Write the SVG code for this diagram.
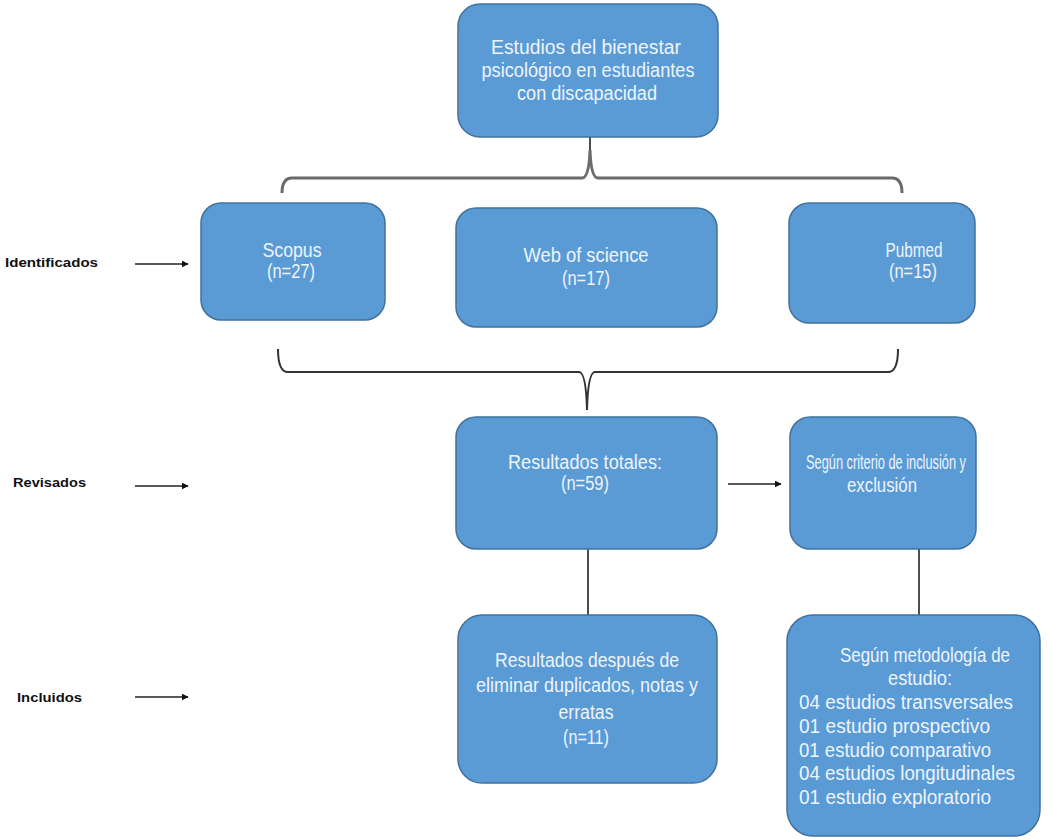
<svg xmlns="http://www.w3.org/2000/svg" width="1052" height="840" viewBox="0 0 1052 840">
<defs>
<marker id="ah" viewBox="0 0 10 10" refX="9" refY="5" markerWidth="7" markerHeight="7" markerUnits="userSpaceOnUse" orient="auto">
<path d="M0,0 L10,5 L0,10 z" fill="#111"/>
</marker>
<style>
.box{fill:#5b9bd5;stroke:#41719c;stroke-width:1.5}
.t{font-family:"Liberation Sans",Arial,sans-serif;font-size:19.5px;fill:#eef4fb;text-anchor:middle;dominant-baseline:central}
.tl{text-anchor:start}
.lab{font-family:"Liberation Sans",Arial,sans-serif;font-size:12.5px;font-weight:bold;fill:#111;dominant-baseline:central}
.arr{stroke:#222;stroke-width:1.6;fill:none;marker-end:url(#ah)}
.ln{stroke:#222;stroke-width:1.6;fill:none}
</style>
</defs>
<rect width="1052" height="840" fill="#ffffff"/>

<g id="labels">
<text class="lab" x="5" y="263" textLength="93" lengthAdjust="spacingAndGlyphs">Identificados</text>
<text class="lab" x="13" y="483" textLength="73" lengthAdjust="spacingAndGlyphs">Revisados</text>
<text class="lab" x="17" y="698" textLength="65" lengthAdjust="spacingAndGlyphs">Incluidos</text>
</g>

<g id="connectors">
<line class="arr" x1="135" y1="264" x2="188" y2="264"/>
<line class="arr" x1="135" y1="486" x2="188" y2="486"/>
<line class="arr" x1="135" y1="697" x2="188" y2="697"/>
<line class="arr" x1="728" y1="484" x2="781" y2="484"/>
<line class="ln" x1="590" y1="137" x2="590" y2="150"/>
<path d="M282,193 Q282,178 292,178 L582,178 Q589,178 590,150 Q591,178 598,178 L892,178 Q902,178 902,193" stroke="#6b6b6b" stroke-width="3" fill="none"/>
<path d="M278,349 Q278,372 288,372 L579,372 Q586,372 587,410 Q588,372 595,372 L888,372 Q898,372 898,349" stroke="#333" stroke-width="2" fill="none"/>
<line class="ln" x1="588" y1="549" x2="588" y2="615"/>
<line class="ln" x1="919" y1="549" x2="919" y2="615"/>
</g>

<g id="n-top">
<rect class="box" x="458" y="4" width="260" height="133" rx="22"/>
<text class="t" x="586" y="47" textLength="190" lengthAdjust="spacingAndGlyphs">Estudios del bienestar</text>
<text class="t" x="588" y="70" textLength="213" lengthAdjust="spacingAndGlyphs">psicológico en estudiantes</text>
<text class="t" x="587" y="93" textLength="140" lengthAdjust="spacingAndGlyphs">con discapacidad</text>
</g>

<g id="n-scopus">
<rect class="box" x="201" y="203" width="184" height="117" rx="20"/>
<text class="t" x="292" y="250" textLength="59" lengthAdjust="spacingAndGlyphs">Scopus</text>
<text class="t" x="291" y="271" textLength="48" lengthAdjust="spacingAndGlyphs">(n=27)</text>
</g>

<g id="n-wos">
<rect class="box" x="456" y="208" width="261" height="119" rx="20"/>
<text class="t" x="586" y="255" textLength="125" lengthAdjust="spacingAndGlyphs">Web of science</text>
<text class="t" x="586" y="278" textLength="48" lengthAdjust="spacingAndGlyphs">(n=17)</text>
</g>

<g id="n-pubmed">
<rect class="box" x="789" y="203" width="186" height="120" rx="20"/>
<text class="t" x="914" y="250" textLength="57" lengthAdjust="spacingAndGlyphs">Pubmed</text>
<text class="t" x="913" y="271" textLength="48" lengthAdjust="spacingAndGlyphs">(n=15)</text>
</g>

<g id="n-total">
<rect class="box" x="456" y="417" width="261" height="132" rx="20"/>
<text class="t" x="585" y="462" textLength="154" lengthAdjust="spacingAndGlyphs">Resultados totales:</text>
<text class="t" x="585" y="483" textLength="48" lengthAdjust="spacingAndGlyphs">(n=59)</text>
</g>

<g id="n-criterio">
<rect class="box" x="790" y="417" width="186" height="132" rx="20"/>
<text class="t" x="886" y="462" textLength="160" lengthAdjust="spacingAndGlyphs">Según  criterio de inclusión y</text>
<text class="t" x="882" y="485" textLength="70" lengthAdjust="spacingAndGlyphs">exclusión</text>
</g>

<g id="n-despues">
<rect class="box" x="458" y="615" width="259" height="168" rx="24"/>
<text class="t" x="587" y="660" textLength="184" lengthAdjust="spacingAndGlyphs">Resultados después de</text>
<text class="t" x="587" y="685" textLength="222" lengthAdjust="spacingAndGlyphs">eliminar duplicados, notas y</text>
<text class="t" x="586" y="712" textLength="55" lengthAdjust="spacingAndGlyphs">erratas</text>
<text class="t" x="586" y="737" textLength="46" lengthAdjust="spacingAndGlyphs">(n=11)</text>
</g>

<g id="n-metodologia">
<rect class="box" x="787" y="615" width="253" height="221" rx="26"/>
<text class="t" x="925" y="655" textLength="170" lengthAdjust="spacingAndGlyphs">Según  metodología de</text>
<text class="t" x="920" y="678" textLength="64" lengthAdjust="spacingAndGlyphs">estudio:</text>
<text class="t tl" x="799" y="702" textLength="214" lengthAdjust="spacingAndGlyphs">04 estudios transversales</text>
<text class="t tl" x="799" y="726" textLength="191" lengthAdjust="spacingAndGlyphs">01 estudio prospectivo</text>
<text class="t tl" x="799" y="750" textLength="192" lengthAdjust="spacingAndGlyphs">01 estudio comparativo</text>
<text class="t tl" x="799" y="773" textLength="216" lengthAdjust="spacingAndGlyphs">04 estudios longitudinales</text>
<text class="t tl" x="799" y="797" textLength="192" lengthAdjust="spacingAndGlyphs">01 estudio exploratorio</text>
</g>
</svg>
